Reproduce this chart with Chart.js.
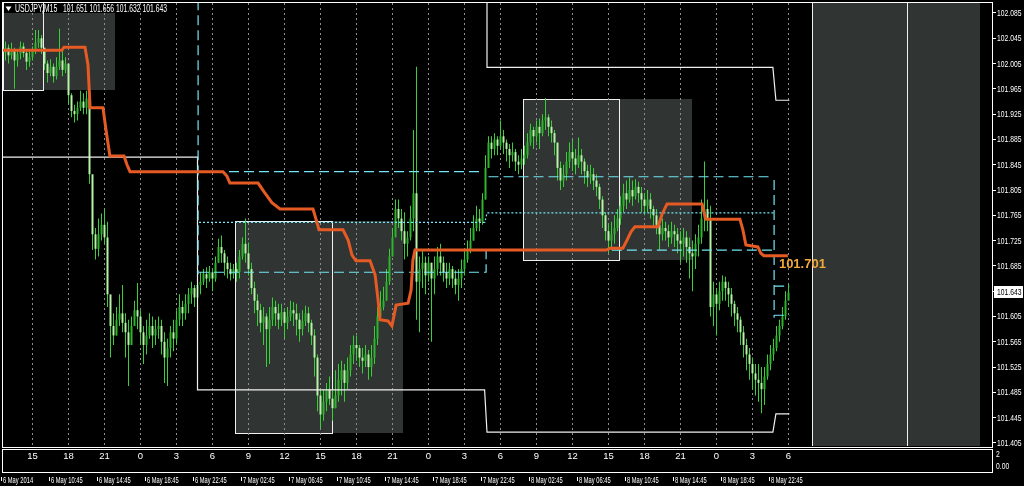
<!DOCTYPE html>
<html>
<head>
<meta charset="utf-8">
<script src="https://cdn.jsdelivr.net/npm/chart.js@4.4.1/dist/chart.umd.min.js"></script>
<style>
  html, body { margin: 0; padding: 0; background: #000; overflow: hidden; }
  #wrap { width: 1024px; height: 486px; }
</style>
</head>
<body>
<div id="wrap"><canvas id="chart" width="1024" height="486"></canvas></div>
<script>
// USDJPY M15 candles, one entry per bar (bar 0 = first visible bar)
const closes = [
  102.030, 102.018, 102.025, 102.010, 102.020, 102.032, 102.022, 102.008, 102.015, 102.025, 102.038, 102.045, 102.030,
  102.005, 101.990, 102.000, 101.985, 102.000, 102.010, 101.995, 102.005,
  101.955, 101.930, 101.925, 101.935, 101.945, 101.935, 101.950,
  101.830, 101.735, 101.712, 101.735, 101.750, 101.730, 101.640,
  101.590, 101.575, 101.600, 101.610, 101.595, 101.580, 101.560, 101.590, 101.615, 101.605,
  101.580, 101.560, 101.575, 101.590, 101.575, 101.585, 101.590, 101.565, 101.540, 101.555,
  101.580, 101.570, 101.600, 101.620, 101.610, 101.625, 101.640, 101.650, 101.635, 101.655,
  101.660, 101.672, 101.665, 101.675, 101.665, 101.690, 101.715, 101.705, 101.690, 101.680,
  101.672, 101.680, 101.675, 101.700, 101.720, 101.705, 101.680, 101.650, 101.630, 101.615, 101.595, 101.605, 101.585,
  101.600, 101.620, 101.610,
  101.600, 101.612, 101.595, 101.605, 101.615, 101.610, 101.600, 101.585, 101.598, 101.610, 101.595, 101.575,
  101.540, 101.480, 101.450, 101.470, 101.490, 101.475, 101.460, 101.480, 101.505, 101.520, 101.500, 101.520,
  101.545, 101.560, 101.555, 101.540, 101.535, 101.545, 101.525, 101.540, 101.570, 101.605,
  101.620, 101.630, 101.660, 101.700, 101.730, 101.775, 101.760, 101.740, 101.720, 101.730, 101.760, 101.800,
  101.660, 101.680, 101.690, 101.670, 101.690, 101.665, 101.680, 101.700, 101.690, 101.675, 101.665, 101.680, 101.665, 101.655, 101.665,
  101.680, 101.695, 101.710, 101.725, 101.745, 101.760, 101.755, 101.790, 101.840, 101.880, 101.870, 101.885, 101.875, 101.890, 101.880, 101.870, 101.860, 101.865, 101.850, 101.845, 101.855,
  101.860, 101.880, 101.900, 101.890, 101.905, 101.895, 101.915, 101.920, 101.905, 101.895, 101.880, 101.840, 101.820, 101.830, 101.850, 101.865, 101.855, 101.845, 101.860, 101.850, 101.835, 101.825, 101.830, 101.820, 101.810, 101.790, 101.765,
  101.740, 101.725, 101.735, 101.745, 101.760, 101.780, 101.800, 101.790, 101.805, 101.795, 101.810, 101.800, 101.790, 101.780, 101.790, 101.775, 101.765, 101.750, 101.735, 101.745, 101.740, 101.730, 101.740, 101.735, 101.725, 101.720, 101.730, 101.715, 101.705, 101.700, 101.720, 101.730,
  101.760, 101.775, 101.760, 101.620, 101.640, 101.625, 101.645, 101.660, 101.650, 101.640, 101.625, 101.610, 101.600, 101.580, 101.560, 101.545, 101.530, 101.515, 101.505, 101.500, 101.490, 101.510, 101.530, 101.545, 101.555, 101.575, 101.590, 101.605, 101.630, 101.643
];
const highs = [
  102.040, 102.035, 102.038, 102.030, 102.028, 102.040, 102.038, 102.025, 102.025, 102.032, 102.058, 102.058, 102.050,
  102.030, 102.010, 102.012, 102.005, 102.015, 102.060, 102.030, 102.015,
  101.975, 101.958, 101.940, 101.945, 101.962, 101.958, 101.962,
  101.955, 101.822, 101.745, 101.760, 101.768, 101.775, 101.755,
  101.630, 101.610, 101.620, 101.640, 101.655, 101.610, 101.600, 101.605, 101.630, 101.658,
  101.615, 101.590, 101.600, 101.610, 101.605, 101.600, 101.605, 101.600, 101.580, 101.570,
  101.590, 101.600, 101.615, 101.640, 101.630, 101.640, 101.650, 101.660, 101.655, 101.660,
  101.675, 101.680, 101.683, 101.685, 101.680, 101.700, 101.728, 101.733, 101.710, 101.700,
  101.690, 101.688, 101.690, 101.710, 101.730, 101.760, 101.722, 101.690, 101.660, 101.640, 101.625, 101.620, 101.610,
  101.620, 101.635, 101.630,
  101.625, 101.625, 101.615, 101.620, 101.630, 101.628, 101.625, 101.610, 101.615, 101.622, 101.620, 101.600,
  101.585, 101.545, 101.490, 101.490, 101.500, 101.510, 101.490, 101.520, 101.530, 101.535, 101.530, 101.540,
  101.560, 101.575, 101.575, 101.560, 101.555, 101.560, 101.552, 101.560, 101.590, 101.620,
  101.645, 101.652, 101.680, 101.712, 101.745, 101.790, 101.790, 101.775, 101.770, 101.740, 101.780, 101.900,
  102.000, 101.700, 101.710, 101.700, 101.700, 101.690, 101.700, 101.715, 101.720, 101.700, 101.690, 101.690, 101.685, 101.678, 101.680,
  101.695, 101.710, 101.725, 101.745, 101.765, 101.780, 101.775, 101.800, 101.860, 101.890, 101.890, 101.895, 101.890, 101.915, 101.900, 101.885, 101.878, 101.880, 101.870, 101.860, 101.870,
  101.875, 101.895, 101.910, 101.905, 101.915, 101.918, 101.925, 101.950, 101.925, 101.915, 101.900, 101.880, 101.850, 101.845, 101.865, 101.880, 101.885, 101.870, 101.888, 101.870, 101.855, 101.845, 101.845, 101.840, 101.830, 101.815, 101.795,
  101.770, 101.750, 101.755, 101.765, 101.775, 101.795, 101.815, 101.820, 101.825, 101.820, 101.822, 101.818, 101.810, 101.800, 101.805, 101.800, 101.780, 101.775, 101.760, 101.760, 101.755, 101.750, 101.755, 101.750, 101.745, 101.740, 101.745, 101.740, 101.730, 101.725, 101.735, 101.750,
  101.790, 101.850, 101.790, 101.780, 101.660, 101.650, 101.660, 101.670, 101.668, 101.660, 101.650, 101.630, 101.620, 101.605, 101.590, 101.570, 101.555, 101.540, 101.530, 101.530, 101.525, 101.525, 101.545, 101.560, 101.570, 101.590, 101.600, 101.620, 101.645, 101.656
];
const lows = [
  102.010, 102.005, 102.012, 101.965, 102.000, 102.012, 102.015, 101.995, 102.000, 102.010, 102.020, 102.030, 102.020,
  101.995, 101.975, 101.985, 101.975, 101.980, 101.995, 101.985, 101.990,
  101.940, 101.920, 101.912, 101.915, 101.930, 101.925, 101.925,
  101.815, 101.710, 101.695, 101.700, 101.725, 101.720, 101.620,
  101.540, 101.560, 101.575, 101.590, 101.580, 101.540, 101.495, 101.560, 101.590, 101.585,
  101.560, 101.530, 101.545, 101.570, 101.555, 101.560, 101.570, 101.545, 101.500, 101.495,
  101.540, 101.550, 101.560, 101.590, 101.590, 101.600, 101.610, 101.625, 101.620, 101.620,
  101.640, 101.655, 101.650, 101.660, 101.645, 101.660, 101.690, 101.690, 101.670, 101.665,
  101.662, 101.665, 101.660, 101.665, 101.695, 101.690, 101.670, 101.640, 101.610, 101.590, 101.580, 101.560, 101.525,
  101.530, 101.590, 101.590,
  101.585, 101.590, 101.570, 101.585, 101.598, 101.590, 101.575, 101.565, 101.575, 101.590, 101.580, 101.560,
  101.510, 101.455, 101.428, 101.440, 101.455, 101.465, 101.440, 101.460, 101.470, 101.480, 101.470, 101.490,
  101.510, 101.530, 101.535, 101.525, 101.515, 101.525, 101.505, 101.510, 101.530, 101.560,
  101.600, 101.615, 101.630, 101.655, 101.700, 101.740, 101.745, 101.725, 101.695, 101.700, 101.725, 101.740,
  101.600, 101.580, 101.650, 101.640, 101.660, 101.565, 101.640, 101.670, 101.670, 101.660, 101.650, 101.655, 101.650, 101.640, 101.630,
  101.650, 101.670, 101.690, 101.705, 101.725, 101.740, 101.740, 101.750, 101.790, 101.840, 101.855, 101.860, 101.860, 101.870, 101.862, 101.850, 101.840, 101.850, 101.835, 101.830, 101.838,
  101.845, 101.855, 101.875, 101.870, 101.880, 101.870, 101.890, 101.900, 101.890, 101.880, 101.860, 101.820, 101.805, 101.810, 101.820, 101.840, 101.835, 101.830, 101.840, 101.830, 101.815, 101.810, 101.815, 101.805, 101.795, 101.775, 101.745,
  101.725, 101.705, 101.710, 101.720, 101.740, 101.750, 101.770, 101.775, 101.785, 101.780, 101.790, 101.785, 101.770, 101.765, 101.770, 101.760, 101.745, 101.735, 101.710, 101.725, 101.725, 101.715, 101.720, 101.715, 101.705, 101.690, 101.700, 101.690, 101.665, 101.645, 101.680, 101.700,
  101.720, 101.740, 101.740, 101.605, 101.590, 101.575, 101.615, 101.630, 101.630, 101.620, 101.605, 101.590, 101.580, 101.560, 101.540, 101.520, 101.505, 101.490, 101.480, 101.470, 101.452, 101.465, 101.505, 101.520, 101.535, 101.550, 101.565, 101.585, 101.600, 101.632
];
const firstOpen = 102.022;
const quote = { open: 101.651, high: 101.656, low: 101.632, close: 101.643 };

// orange step average (bar index, price)
const maX = [-0.83, 18.8, 19.5, 26.5, 27.5, 28.2, 32.5, 33.5, 34.8, 39.5, 40.5, 41.5, 72.5, 73.8, 74.8, 84.2, 86.2, 88.8, 91.5,
  102.5, 103.8, 104.5, 112.5, 114.2, 115.5, 116.8, 121.5, 123.2, 124.2, 124.8, 127.5, 128.8, 130.2, 134.2, 135.2, 135.8, 136.5,
  200.2, 201.5, 205.8, 207.2, 208.5, 209.8, 217.5, 218.8, 220.5, 232.2, 232.8, 233.5, 244.8, 245.8, 246.8, 250.8, 251.8, 252.8, 260.8];
const maY = [102.026, 102.026, 102.031, 102.031, 102.003, 101.935, 101.935, 101.900, 101.859, 101.859, 101.845, 101.834, 101.834, 101.827, 101.816, 101.816, 101.802, 101.785, 101.775,
  101.775, 101.754, 101.742, 101.742, 101.726, 101.702, 101.693, 101.693, 101.671, 101.631, 101.600, 101.598, 101.590, 101.623, 101.626, 101.647, 101.694, 101.710,
  101.710, 101.713, 101.713, 101.726, 101.739, 101.747, 101.747, 101.766, 101.783, 101.783, 101.770, 101.759, 101.759, 101.742, 101.718, 101.715, 101.705, 101.701, 101.701];

// white day high / low steps
const dayLowX = [-0.83, 64, 64, 159.7, 160.5, 255.8, 256.8, 261.3];
const dayLowY = [101.857, 101.857, 101.489, 101.489, 101.422, 101.422, 101.451, 101.451];
const dayHighX = [160.5, 160.5, 255.8, 256.8, 261.3];
const dayHighY = [102.200, 101.999, 101.999, 101.947, 101.947];

// cyan levels (null = break)
const cyanDashX = [64.2, 64.2, null, 64.5, 159.5, null, 161, 255.8, null, 64.5, 160.2, 160.2, 255.8, null, 256.2, 256.2, null, 256.2, 261.3, null, 256.2, 261.3];
const cyanDashY = [102.2, 101.672, null, 101.834, 101.834, null, 101.826, 101.826, null, 101.675, 101.675, 101.710, 101.710, null, 101.821, 101.603, null, 101.653, 101.653, null, 101.607, 101.607];
const cyanDotX = [64.5, 159.8, 160.5, 256.2];
const cyanDotY = [101.754, 101.754, 101.769, 101.769];

// session boxes
const fillX0 = [-0.83, 76.5, 172.5, 268.8];
const fillX1 = [36.5, 132.5, 228.8, 324.8];
const fillHi = [102.085, 101.756, 101.949, 102.3];
const fillLo = [101.963, 101.421, 101.694, 101.3];
const boxX0 = [-0.83, 76.5, 172.5, 268.8];
const boxX1 = [12.5, 108.8, 204.5, 300.5];
const boxHi = [102.3, 101.756, 101.949, 102.3];
const boxLo = [101.963, 101.421, 101.694, 101.3];

// axes
const priceTicks = [101.405, 101.445, 101.485, 101.525, 101.565, 101.605, 101.645, 101.685, 101.725, 101.765,
  101.805, 101.845, 101.885, 101.925, 101.965, 102.005, 102.045, 102.085];
const hourBars = [9, 21, 33, 45, 57, 69, 81, 93, 105, 117, 129, 141, 153, 165, 177, 189, 201, 213, 225, 237, 249, 261];
const hourLabels = ['15', '18', '21', '0', '3', '6', '9', '12', '15', '18', '21', '0', '3', '6', '9', '12', '15', '18', '21', '0', '3', '6'];
const dateBars = [-1, 15, 31, 47, 63, 79, 95, 111, 127, 143, 159, 175, 191, 207, 223, 239, 255];
const dateLabels = ['6 May 2014', '6 May 10:45', '6 May 14:45', '6 May 18:45', '6 May 22:45', '7 May 02:45', '7 May 06:45',
  '7 May 10:45', '7 May 14:45', '7 May 18:45', '7 May 22:45', '8 May 02:45', '8 May 06:45', '8 May 10:45',
  '8 May 14:45', '8 May 18:45', '8 May 22:45'];

const FONT = "'Liberation Sans', Arial, sans-serif";
const BULL = '#2cb52c';
const BEAR = '#b6f3a6';
const WICK = '#3ccf3c';
const CYAN = '#72e6f4';

function zip(xs, ys) {
  return xs.map((x, i) => ({ x: x, y: ys[i] }));
}

function splitSegments(xs, ys) {
  const segs = [];
  let cur = [];
  xs.forEach((x, i) => {
    if (x === null) {
      if (cur.length) segs.push(cur);
      cur = [];
    } else {
      cur.push({ x: x, y: ys[i] });
    }
  });
  if (cur.length) segs.push(cur);
  return segs;
}

function lineSet(data, color, width, dash, order) {
  return {
    type: 'line', data: data, borderColor: color, borderWidth: width, borderDash: dash,
    pointRadius: 0, tension: 0, fill: false, order: order
  };
}

function squash(ctx, text, x, y, sx) {
  ctx.save();
  ctx.translate(x, y);
  ctx.scale(sx, 1);
  ctx.fillText(text, 0, 0);
  ctx.restore();
}

const opens = closes.map((c, i) => (i === 0 ? firstOpen : closes[i - 1]));
const wickData = closes.map((c, i) => ({ x: i, y: [lows[i], highs[i]] }));
const bodyData = closes.map((c, i) => ({ x: i, y: [opens[i], c] }));
const bodyColors = closes.map((c, i) => (c >= opens[i] ? BULL : BEAR));

const datasets = [
  lineSet(zip(maX, maY), '#e65a24', 3, [], 0),
  lineSet(zip(cyanDotX, cyanDotY), CYAN, 1.2, [2, 2], 1),
  ...splitSegments(cyanDashX, cyanDashY).map(s => lineSet(s, CYAN, 1.2, [10, 5], 1)),
  lineSet(zip(dayLowX, dayLowY), '#f0f0f0', 1.2, [], 2),
  lineSet(zip(dayHighX, dayHighY), '#f0f0f0', 1.2, [], 2),
  { type: 'bar', data: bodyData, backgroundColor: bodyColors, barThickness: 2, grouped: false, inflateAmount: 0, borderWidth: 0, order: 3 },
  { type: 'bar', data: wickData, backgroundColor: WICK, barThickness: 1, grouped: false, inflateAmount: 0, borderWidth: 0, order: 4 }
];

const sessionBoxes = {
  id: 'sessionBoxes',
  beforeDraw(chart) {
    const { ctx, chartArea: a, scales: { x, y } } = chart;
    ctx.save();
    ctx.beginPath();
    ctx.rect(a.left, a.top, a.right - a.left, a.bottom - a.top);
    ctx.clip();
    ctx.fillStyle = '#303432';
    fillX0.forEach((x0, k) => {
      const l = Math.round(x.getPixelForValue(x0));
      const r = Math.round(x.getPixelForValue(fillX1[k]));
      const t = Math.round(y.getPixelForValue(fillHi[k]));
      const b = Math.round(y.getPixelForValue(fillLo[k]));
      ctx.fillRect(l, t, r - l, b - t);
    });
    ctx.strokeStyle = '#f0f0f0';
    ctx.lineWidth = 1;
    boxX0.forEach((x0, k) => {
      const l = Math.round(x.getPixelForValue(x0));
      const r = Math.round(x.getPixelForValue(boxX1[k]));
      const t = Math.round(y.getPixelForValue(boxHi[k]));
      const b = Math.round(y.getPixelForValue(boxLo[k]));
      ctx.strokeRect(l + 0.5, t + 0.5, r - l, b - t);
    });
    ctx.restore();
  }
};

const overlay = {
  id: 'overlay',
  afterDraw(chart) {
    const { ctx, scales: { x, y } } = chart;
    ctx.save();
    ctx.strokeStyle = '#ffffff';
    ctx.lineWidth = 1;
    ctx.strokeRect(2.5, 2.5, 990, 445);
    ctx.strokeRect(2.5, 449.5, 990, 23);

    // price scale labels
    ctx.fillStyle = '#ffffff';
    ctx.textBaseline = 'middle';
    ctx.textAlign = 'left';
    ctx.font = '9px ' + FONT;
    priceTicks.forEach(v => squash(ctx, v.toFixed(3), 997, y.getPixelForValue(v) + 0.5, 0.75));

    // current price
    const py = Math.round(y.getPixelForValue(quote.close));
    ctx.fillStyle = '#ffffff';
    ctx.fillRect(994, py - 6, 29, 12);
    ctx.fillStyle = '#000000';
    squash(ctx, quote.close.toFixed(3), 997, py + 0.5, 0.75);

    // sub-window scale
    ctx.fillStyle = '#ffffff';
    squash(ctx, '2', 996, 455, 0.75);
    squash(ctx, '0.00', 996, 467, 0.75);

    // date row
    ctx.font = '9px ' + FONT;
    dateBars.forEach((b, k) => {
      const px = Math.round(x.getPixelForValue(b)) - 1;
      ctx.fillRect(px, 477, 1, 4);
      squash(ctx, dateLabels[k], px + 2, 480.5, 0.64);
    });

    // header
    ctx.beginPath();
    ctx.moveTo(5.5, 6.5); ctx.lineTo(11.5, 6.5); ctx.lineTo(8.5, 11); ctx.closePath();
    ctx.fill();
    ctx.font = '10px ' + FONT;
    squash(ctx, 'USDJPY,M15', 15, 9.5, 0.7);
    squash(ctx, [quote.open, quote.high, quote.low, quote.close].map(v => v.toFixed(3)).join(' '), 63, 9.5, 0.68);

    // average label
    const last = maX.length - 1;
    ctx.font = 'bold 13px ' + FONT;
    ctx.fillStyle = '#f2a93a';
    ctx.fillText(maY[last].toFixed(3), x.getPixelForValue(maX[last]) - 9, y.getPixelForValue(maY[last]) + 9);
    ctx.restore();
  }
};

new Chart(document.getElementById('chart'), {
  type: 'bar',
  data: { datasets: datasets },
  options: {
    responsive: false,
    animation: false,
    layout: { padding: { left: 3, top: 3, right: 0, bottom: 0 } },
    plugins: { legend: { display: false }, tooltip: { enabled: false } },
    scales: {
      x: {
        type: 'linear',
        min: -0.8333,
        max: 329.1667,
        offset: false,
        afterFit: s => { s.height = 40; },
        afterBuildTicks: s => { s.ticks = hourBars.map(v => ({ value: v })); },
        ticks: {
          autoSkip: false, maxRotation: 0, padding: 5, color: '#ffffff',
          font: { family: FONT, size: 9.5 },
          callback: (v, i) => hourLabels[i]
        },
        grid: { offset: false, drawTicks: false, color: '#8e8e8e', lineWidth: 1 },
        border: { display: false, dash: [2, 3] }
      },
      y: {
        type: 'linear',
        position: 'right',
        min: 101.4002,
        max: 102.1008,
        afterFit: s => { s.width = 31; },
        afterBuildTicks: s => { s.ticks = priceTicks.map(v => ({ value: v })); },
        ticks: { display: false },
        grid: { drawOnChartArea: false, drawTicks: true, tickLength: 3, color: '#ffffff' },
        border: { display: false }
      }
    }
  },
  plugins: [sessionBoxes, overlay]
});
</script>
</body>
</html>
